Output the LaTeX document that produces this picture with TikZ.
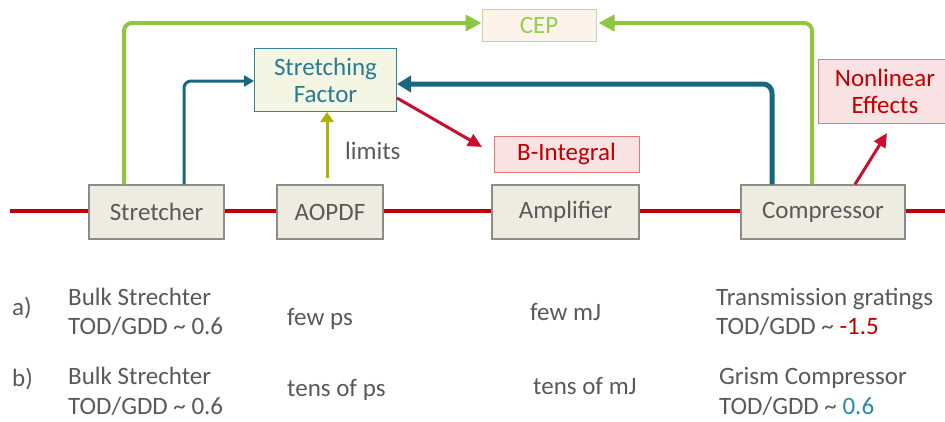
\documentclass[tikz,border=0pt]{standalone}
\usepackage{fontspec}
\setmainfont{Carlito}
\usetikzlibrary{arrows.meta}
\definecolor{txtgray}{HTML}{595959}
\definecolor{boxfill}{HTML}{EEECE1}
\definecolor{boxline}{HTML}{8C8C8C}
\definecolor{beamred}{HTML}{C00000}
\definecolor{cepgreen}{HTML}{8DC63F}
\definecolor{cepline}{HTML}{C3D69B}
\definecolor{cepfill}{HTML}{FCF3EA}
\definecolor{ceptext}{HTML}{92D050}
\definecolor{teal}{HTML}{17687F}
\definecolor{sftext}{HTML}{2A7C8E}
\definecolor{sffill}{HTML}{F4F5E3}
\definecolor{sfline}{HTML}{31859C}
\definecolor{olive}{HTML}{A8B400}
\definecolor{arrred}{HTML}{C8102E}
\definecolor{pinkfill}{HTML}{F9E2E4}
\definecolor{pinkline}{HTML}{E07A6E}
\definecolor{numteal}{HTML}{2A8AA5}
\begin{document}
\begin{tikzpicture}[x=1pt,y=-1pt,
  every node/.style={font=\fontsize{25}{30}\selectfont, inner sep=0pt},
  comp/.style={draw=boxline, line width=1.2pt, fill=boxfill, text=txtgray},
  lbl/.style={anchor=base west, text=txtgray},
  redbox/.style={draw=pinkline, line width=1pt, fill=pinkfill, text=beamred, align=center},
]
\useasboundingbox (0,0) rectangle (945,421);
% beam line
\coordinate (bl) at (10,211);
\coordinate (br) at (950,211);
\draw[beamred, line width=4pt] (bl) -- (br);
% components
\node[comp, minimum width=135pt, minimum height=54pt] (str) at (156.5,212) {Stretcher};
\node[comp, minimum width=106pt, minimum height=54pt] (aopdf) at (330,212) {AOPDF};
\node[comp, minimum width=147pt, minimum height=54pt] (amp) at (565.5,212) {Amplifier};
\node[comp, minimum width=164pt, minimum height=54pt] (compr) at (823,212) {Compressor};
% upper boxes
\node[draw=sfline, line width=1pt, fill=sffill, text=sftext, align=center,
      minimum width=142pt, minimum height=63pt] (sf) at (325.5,80) {Stretching\\[-3pt]Factor};
\node[draw=cepline, line width=1pt, fill=cepfill, text=ceptext,
      minimum width=114pt, minimum height=32pt] (cep) at (539,25) {CEP};
\node[redbox, minimum width=145pt, minimum height=36pt] (bint) at (566.5,154) {B-Integral};
\node[redbox, minimum width=134pt, minimum height=64pt] (nle) at (885,91) {Nonlinear\\[-3pt]Effects};
% arrow end points
\coordinate (bintin) at (482,147);
\coordinate (nlein) at (887,133);
% green CEP arrows
\draw[cepgreen, line width=4pt, rounded corners=8pt, -{Triangle[length=16pt,width=16pt]}]
  (str.north -| 124,0) -- (124,23) -- (cep.west |- 0,23);
\draw[cepgreen, line width=4pt, rounded corners=8pt, -{Triangle[length=16pt,width=16pt]}]
  (compr.north -| 812,0) -- (812,23) -- ([xshift=2pt]cep.east |- 0,23);
% teal arrows to stretching factor
\draw[teal, line width=3pt, rounded corners=7pt, -{Triangle[length=10pt,width=11pt]}]
  (str.north -| 184,0) -- (184,81) -- (sf.west |- 0,81);
\draw[teal, line width=5pt, rounded corners=9pt, -{Triangle[length=14pt,width=16pt]}]
  (compr.north -| 772,0) -- (772,84) -- (sf.east |- 0,84);
% limits arrow
\coordinate (lim0) at (327,178);
\draw[olive, line width=3pt, -{Triangle[length=10pt,width=13pt]}] (lim0) -- (sf.south -| 327,0);
\node[lbl] (limits) at (345,159) {limits};
% red arrows
\draw[arrred, line width=3pt, -{Triangle[length=14pt,width=13pt]}] (sf.east |- 0,98) -- (bintin);
\draw[arrred, line width=3pt, -{Triangle[length=14pt,width=13pt]}] (compr.north -| 855,0) -- (nlein);
% bottom texts
\node[lbl] (la) at (12,315) {a)};
\node[lbl] (a1) at (68,305) {Bulk Strechter};
\node[lbl] (a2) at (68,334) {TOD/GDD \textasciitilde{} 0.6};
\node[lbl] (a3) at (287,325) {few ps};
\node[lbl] (a4) at (530,320) {few mJ};
\node[lbl] (a5) at (716,305) {Transmission gratings};
\node[lbl] (a6) at (716,334) {TOD/GDD \textasciitilde{} \textcolor{beamred}{-1.5}};
\node[lbl] (lb) at (12,386) {b)};
\node[lbl] (b1) at (68,384) {Bulk Strechter};
\node[lbl] (b2) at (68,414) {TOD/GDD \textasciitilde{} 0.6};
\node[lbl] (b3) at (287,396) {tens of ps};
\node[lbl] (b4) at (533,394) {tens of mJ};
\node[lbl] (b5) at (719,384) {Grism Compressor};
\node[lbl] (b6) at (719,414) {TOD/GDD \textasciitilde{} \textcolor{numteal}{0.6}};
\end{tikzpicture}
\end{document}
